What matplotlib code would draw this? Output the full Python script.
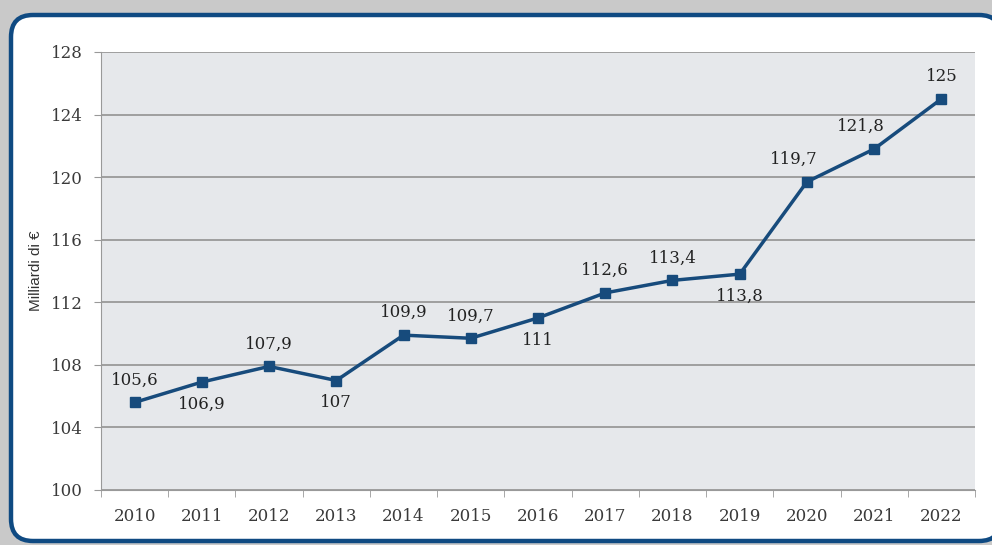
import matplotlib.pyplot as plt
from matplotlib.patches import FancyBboxPatch
import numpy as np

# Data
years = ["2010", "2011", "2012", "2013", "2014", "2015", "2016",
         "2017", "2018", "2019", "2020", "2021", "2022"]
values = [105.6, 106.9, 107.9, 107.0, 109.9, 109.7, 111.0,
          112.6, 113.4, 113.8, 119.7, 121.8, 125.0]
labels = ["105,6", "106,9", "107,9", "107", "109,9", "109,7", "111",
          "112,6", "113,4", "113,8", "119,7", "121,8", "125"]
# label placement: above (1) or below (-1)
place = [1, -1, 1, -1, 1, 1, -1, 1, 1, -1, 1, 1, 1]
yticks = [100, 104, 108, 112, 116, 120, 124, 128]

line_col = "#174b7c"
serif = "DejaVu Serif"

fig = plt.figure(figsize=(9.92, 5.45), dpi=100)
fig.patch.set_facecolor("#c9c9c9")

# background axes in pixel units for the rounded panel
bg = fig.add_axes([0, 0, 1, 1])
bg.set_xlim(0, 992)
bg.set_ylim(0, 545)
bg.axis("off")
panel = FancyBboxPatch((11, 4), 990, 526,
                       boxstyle="round,pad=0,rounding_size=22",
                       facecolor="white", edgecolor="#0f4a82", linewidth=3.2)
bg.add_patch(panel)

ax = fig.add_axes([101 / 992, 55 / 545, 874 / 992, 438 / 545])
ax.set_facecolor("#e6e8eb")
x = np.arange(len(years))

ax.plot(x, values, color=line_col, lw=2.5, marker="s", markersize=7,
        markerfacecolor=line_col, markeredgecolor=line_col, zorder=3)

for i, (v, lab, p) in enumerate(zip(values, labels, place)):
    dx = 0
    if i in (10, 11):
        dx = -0.2
    off = 10 if p > 0 else -10
    ax.annotate(lab, (i + dx, v), xytext=(0, off), textcoords="offset points",
                ha="center", va="bottom" if p > 0 else "top",
                fontsize=12, family=serif, color="#222222")

ax.set_xlim(-0.5, len(years) - 0.5)
ax.set_ylim(100, 128)
ax.set_yticks(yticks)
ax.set_yticklabels([str(t) for t in yticks], family=serif, fontsize=12,
                   color="#3a3a3a")
ax.set_xticks(x)
ax.set_xticklabels(years, family=serif, fontsize=12, color="#3a3a3a")
ax.set_xticks(np.arange(-0.5, len(years), 1), minor=True)
ax.tick_params(axis="x", which="major", length=0, pad=13)
ax.tick_params(axis="x", which="minor", length=5, color="#999999")
ax.tick_params(axis="y", length=5, color="#999999", pad=8)

ax.grid(axis="y", color="#999999", lw=1.3)
ax.set_axisbelow(True)
for s in ("top", "right"):
    ax.spines[s].set_visible(False)
for s in ("left", "bottom"):
    ax.spines[s].set_color("#999999")

ax.set_ylabel("Milliardi di €", family="Liberation Sans", fontsize=11,
              color="#333333", labelpad=6)

fig.savefig("out.png", dpi=100, facecolor=fig.get_facecolor())
